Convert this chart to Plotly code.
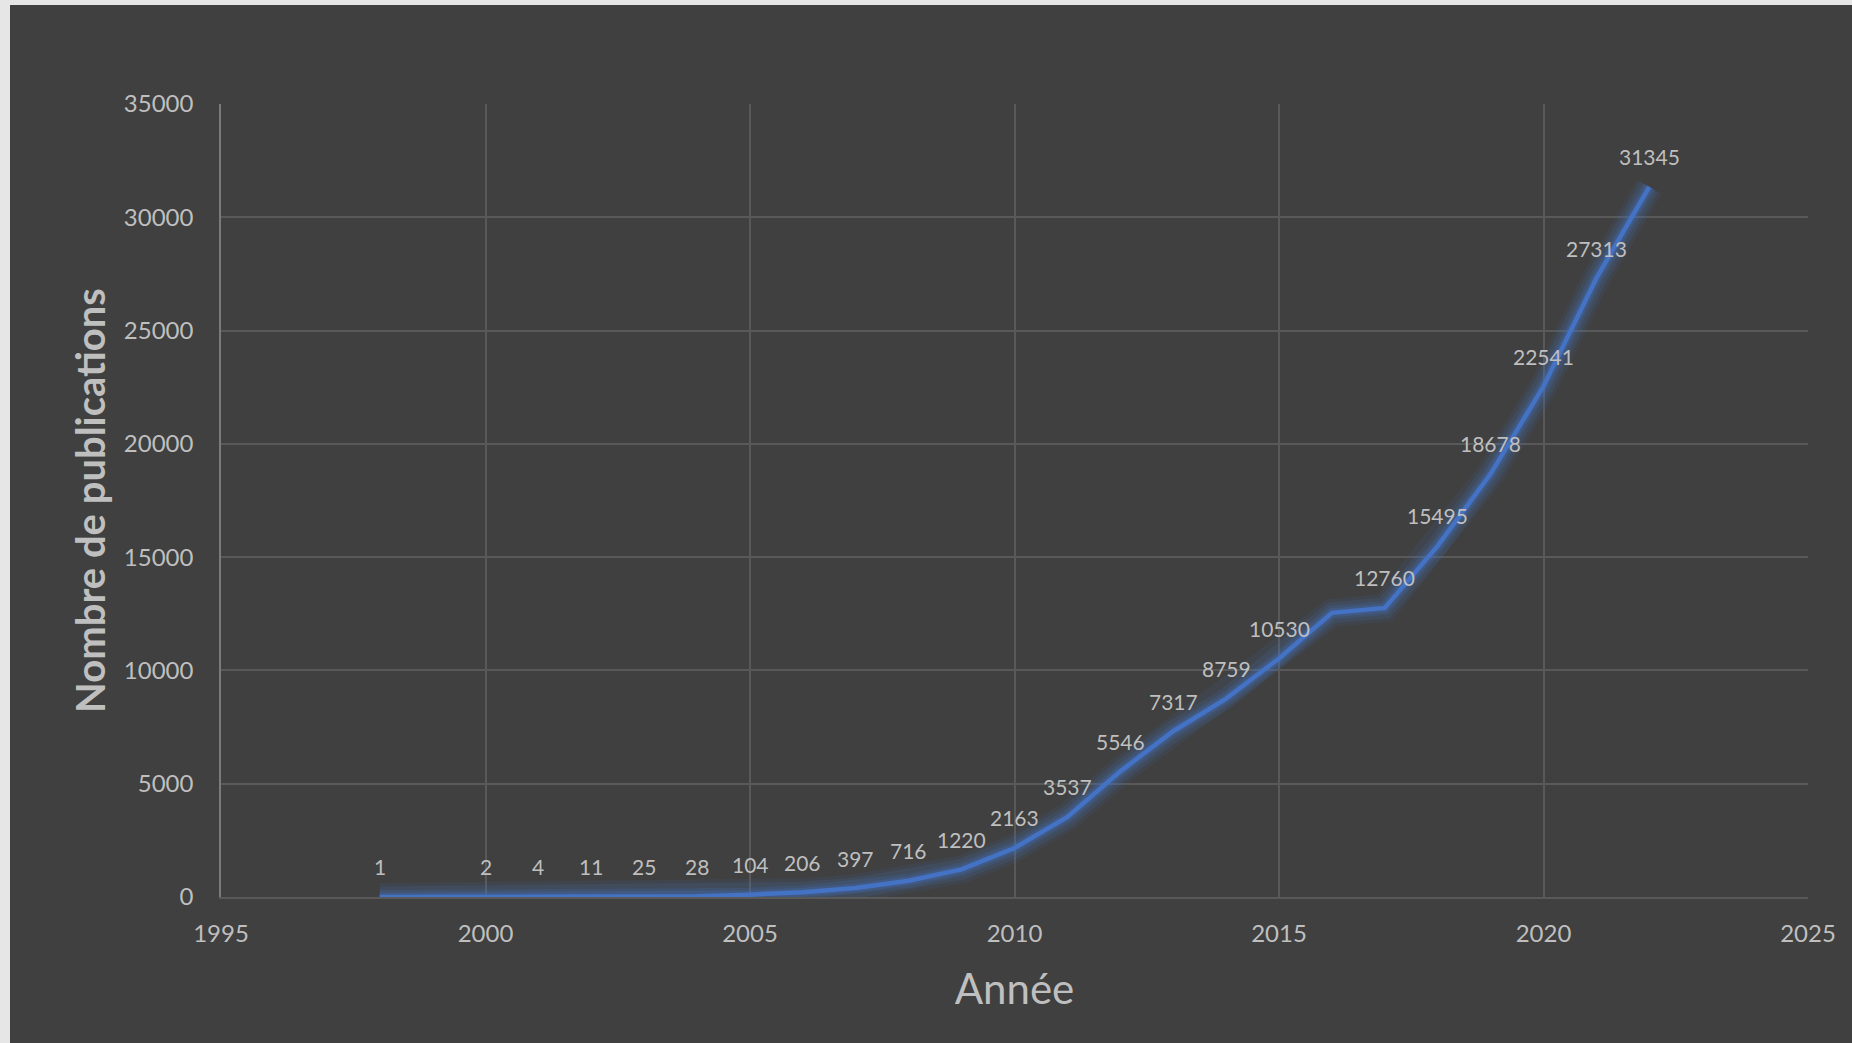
import plotly.graph_objects as go

# Publications per year
years = [1998, 2000, 2001, 2002, 2003, 2004, 2005, 2006, 2007, 2008, 2009, 2010,
         2011, 2012, 2013, 2014, 2015, 2016, 2017, 2018, 2019, 2020, 2021, 2022]
publications = [1, 2, 4, 11, 25, 28, 104, 206, 397, 716, 1220, 2163,
                3537, 5546, 7317, 8759, 10530, 12540, 12760, 15495, 18678, 22541, 27313, 31345]
# value labels shown above the line (none for 2016)
value_labels = [1, 2, 4, 11, 25, 28, 104, 206, 397, 716, 1220, 2163,
                3537, 5546, 7317, 8759, 10530, None, 12760, 15495, 18678, 22541, 27313, 31345]

x_ticks = [1995, 2000, 2005, 2010, 2015, 2020, 2025]
y_ticks = [0, 5000, 10000, 15000, 20000, 25000, 30000, 35000]

BG = "#404040"
GRID = "#595959"
TEXT = "#bfbfbf"
BLUE = "#4472C4"
FRAME = "#e6e6e6"
FONT = "Lato"

fig = go.Figure()

# soft glow around the line
for w, a in [(28, 0.10), (21, 0.13), (14, 0.18), (9, 0.26)]:
    fig.add_trace(go.Scatter(x=years, y=publications, mode="lines",
                             line=dict(color=f"rgba(68,114,196,{a})", width=w),
                             hoverinfo="skip", showlegend=False))

fig.add_trace(go.Scatter(x=years, y=publications, mode="lines",
                         line=dict(color=BLUE, width=4.5), showlegend=False))

for x, y, lab in zip(years, publications, value_labels):
    if lab is None:
        continue
    fig.add_annotation(x=x, y=y, text=str(lab), showarrow=False,
                       yshift=30, font=dict(family=FONT, size=21, color=TEXT))

L, R, T, B = 221, 44, 104, 146

# page frame: light strips along the top and left edges (sized in pixels)
fig.add_shape(type="rect", xref="paper", yref="paper",
              xsizemode="pixel", xanchor=0, x0=-L - 5, x1=-L + 10,
              y0=-0.5, y1=1.5,
              fillcolor=FRAME, line=dict(width=0), layer="above")
fig.add_shape(type="rect", xref="paper", yref="paper",
              ysizemode="pixel", yanchor=1, y0=T - 5, y1=T + 5,
              x0=-0.5, x1=1.5,
              fillcolor=FRAME, line=dict(width=0), layer="above")

fig.update_layout(
    width=1852, height=1043,
    margin=dict(l=L, r=R, t=T, b=B),
    paper_bgcolor=BG,
    plot_bgcolor=BG,
    font=dict(family=FONT, color=TEXT),
    showlegend=False,
    xaxis=dict(
        range=[1995, 2025], tickvals=x_ticks, tickformat="d",
        showgrid=True, gridcolor=GRID, gridwidth=1.5,
        zeroline=False, showline=True, linecolor=GRID, linewidth=1.5,
        ticks="", ticklabelstandoff=14,
        tickfont=dict(family=FONT, size=24, color=TEXT),
        title=dict(text="Année", standoff=29,
                   font=dict(family=FONT, size=42, color=TEXT)),
    ),
    yaxis=dict(
        range=[0, 35000], tickvals=y_ticks, tickformat="d",
        showgrid=True, gridcolor=GRID, gridwidth=1.5,
        zeroline=False, showline=True, linecolor="#7a7a7a", linewidth=1.5,
        ticks="", ticklabelstandoff=21,
        tickfont=dict(family=FONT, size=24, color=TEXT),
        title=dict(text="<b>Nombre de publications</b>", standoff=6,
                   font=dict(family=FONT, size=40, color=TEXT)),
    ),
)

fig.write_html("out.html", config={"displayModeBar": False})
